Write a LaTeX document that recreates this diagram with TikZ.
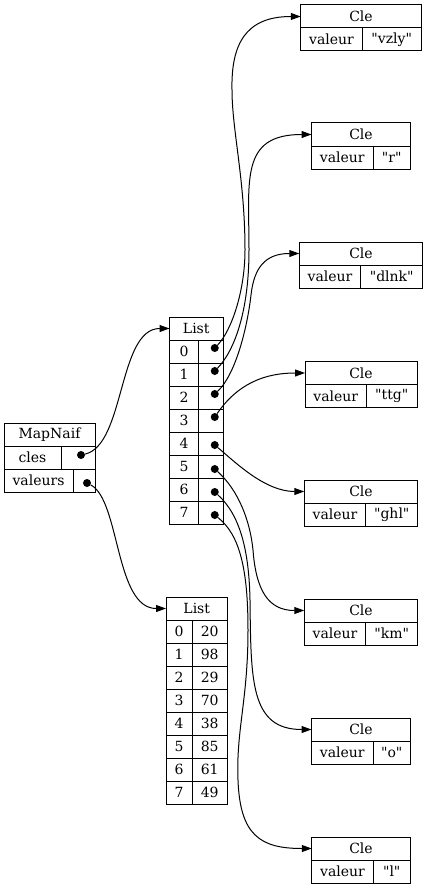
\documentclass[tikz,border=0pt]{standalone}
\usepackage{fontspec}
\setmainfont{DejaVu Serif}
\newfontfamily\qfont{DejaVu Serif}
\usetikzlibrary{arrows.meta}

\begin{document}
\begin{tikzpicture}[x=1pt, y=-1pt,
            cell/.style={draw, line width=1pt, inner sep=0pt, outer sep=0pt, minimum height=23pt, anchor=north west, font={\fontsize{14pt}{17pt}\selectfont}},
            ptrdot/.style={circle, fill=black, inner sep=0pt, minimum size=8pt},
            link/.style={line width=1pt, -{Triangle[length=10pt,width=7pt]}}]
            \useasboundingbox (0,0) rectangle (427,888);

            % MapNaif
            \node[cell, minimum width=91pt] (mh) at (4,423) {MapNaif};
            \node[cell, minimum width=57pt] (mk) at (mh.south west) {cles};
            \node[cell, minimum width=34pt] (mc) at (mk.north east) {};
            \node[cell, minimum width=69pt] (mv) at (mk.south west) {valeurs};
            \node[cell, minimum width=22pt] (mw) at (mv.north east) {};
            \node[ptrdot] (md1) at ([xshift=3pt, yshift=2.5pt]mc.center) {};
            \node[ptrdot] (md2) at ([xshift=3pt, yshift=-2.5pt]mw.center) {};

            % List of keys
            \node[cell, minimum width=53.5pt] (l1h) at (169.5,317) {List};
            \foreach \i/\dy in {0/3.5, 1/3.5, 2/3.5, 3/3.5, 4/-1.5, 5/-2.5, 6/-2.5, 7/-2.5} {
                \node[cell, minimum width=29pt] (l1k\i) at (169.5, {340+23*\i}) {\i};
                \node[cell, minimum width=24.5pt] (l1p\i) at (l1k\i.north east) {};
                \node[ptrdot] (l1d\i) at ([xshift=4pt, yshift=\dy pt]l1p\i.center) {};
            }

            % List of values
            \node[cell, minimum width=61.5pt] (l2h) at (166,597) {List};
            \foreach \i/\v in {0/20, 1/98, 2/29, 3/70, 4/38, 5/85, 6/61, 7/49} {
                \node[cell, minimum width=26pt] (l2k\i) at (166, {620+23*\i}) {\i};
                \node[cell, minimum width=35.5pt] (l2v\i) at (l2k\i.north east) {\v};
            }

            % Cle boxes
            \foreach \i/\y/\s/\w in {0/5/vzly/59, 1/123/r/37.5, 2/242/dlnk/62, 3/361.5/ttg/50.5, 4/480/ghl/52, 5/599/km/52, 6/718/o/37.5, 7/837/l/37} {
                \pgfmathsetmacro\bw{61.5+\w}
                \node[cell, anchor=north, minimum width=\bw pt] (cle\i) at (361,\y) {Cle};
                \node[cell, minimum width=61.5pt] (val\i) at (cle\i.south west) {valeur};
                \node[cell, anchor=north east, minimum width=\w pt] (str\i) at (cle\i.south east) {\qfont"\s"};
            }

            % pointers
            \draw[link] (md1) .. controls (125,445) and (118,328.5) .. (l1h.west);
            \draw[link] (md2) .. controls (120,500) and (115,608.5) .. (l2h.west);

            \draw[link] (l1d0) .. controls (232,330) and (245,290) .. (245,250)
                .. controls (245,180) and (232,130) .. (232,90)
                .. controls (231,45) and (245,16.5) .. (cle0.west);
            \draw[link] (l1d1) .. controls (235,350) and (249,310) .. (249,250)
                .. controls (249,180) and (240,134.5) .. (cle1.west);
            \draw[link] (l1d2) .. controls (235,375) and (247,330) .. (251,295)
                .. controls (254,268) and (265,253.5) .. (cle2.west);
            \draw[link] (l1d3) .. controls (232,392) and (255,373) .. (cle3.west);
            \draw[link] (l1d4) .. controls (235,462) and (265,491.5) .. (cle4.west);
            \draw[link] (l1d5) .. controls (238,490) and (250,520) .. (253,550)
                .. controls (256,590) and (268,610.5) .. (cle5.west);
            \draw[link] (l1d6) .. controls (240,515) and (249,550) .. (250,600)
                .. controls (251,680) and (250,729.5) .. (cle6.west);
            \draw[link] (l1d7) .. controls (240,535) and (248,570) .. (248,630)
                .. controls (248,700) and (236,730) .. (238,780)
                .. controls (240,835) and (260,848.5) .. (cle7.west);
\end{tikzpicture}
\end{document}
